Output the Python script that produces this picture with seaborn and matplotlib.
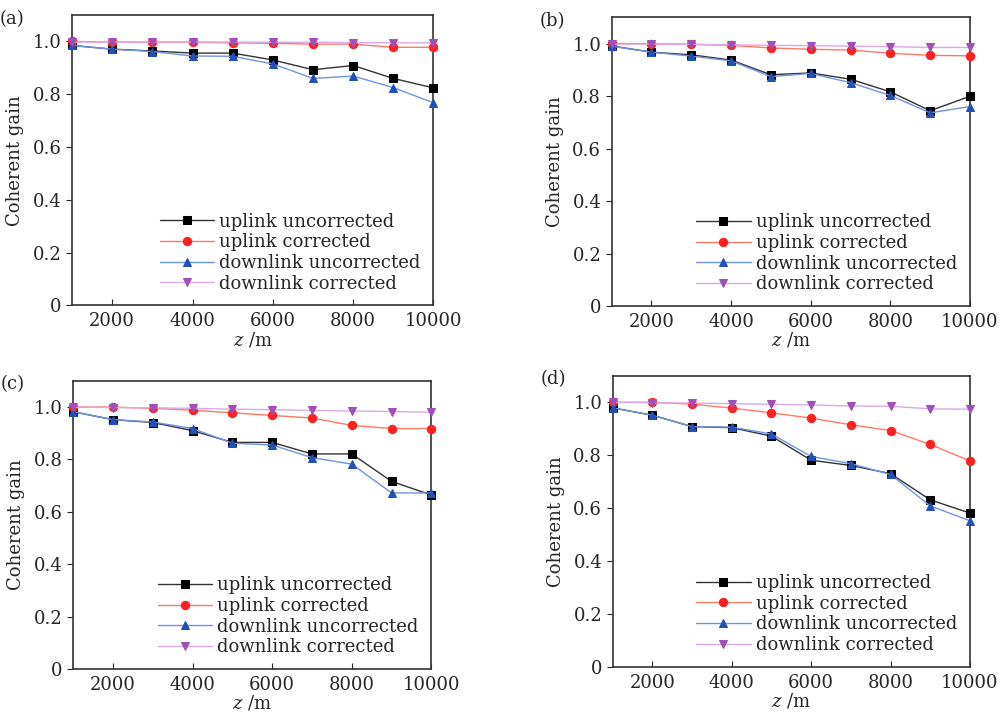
# Coherent gain vs propagation distance, four cases
import numpy as np
import pandas as pd
import matplotlib
matplotlib.use("Agg")
import matplotlib.pyplot as plt
import seaborn as sns

z = [1000, 2000, 3000, 4000, 5000, 6000, 7000, 8000, 9000, 10000]

up_unc_a = [0.985, 0.971, 0.964, 0.956, 0.956, 0.930, 0.893, 0.909, 0.860, 0.824]
up_cor_a = [1.000, 0.998, 0.997, 0.997, 0.995, 0.993, 0.990, 0.990, 0.978, 0.978]
dn_unc_a = [0.985, 0.971, 0.962, 0.945, 0.944, 0.915, 0.860, 0.869, 0.825, 0.768]
dn_cor_a = [0.998, 0.998, 0.998, 0.998, 0.998, 0.997, 0.997, 0.996, 0.995, 0.995]

up_unc_b = [0.991, 0.967, 0.957, 0.937, 0.881, 0.888, 0.864, 0.816, 0.744, 0.799]
up_cor_b = [1.000, 0.999, 0.997, 0.993, 0.983, 0.978, 0.975, 0.963, 0.955, 0.953]
dn_unc_b = [0.990, 0.967, 0.952, 0.934, 0.874, 0.886, 0.851, 0.802, 0.736, 0.760]
dn_cor_b = [0.998, 0.998, 0.997, 0.995, 0.993, 0.992, 0.990, 0.988, 0.985, 0.985]

up_unc_c = [0.982, 0.952, 0.941, 0.910, 0.865, 0.865, 0.821, 0.821, 0.716, 0.664]
up_cor_c = [1.000, 1.000, 0.995, 0.988, 0.978, 0.968, 0.958, 0.930, 0.918, 0.918]
dn_unc_c = [0.982, 0.952, 0.943, 0.918, 0.862, 0.855, 0.807, 0.782, 0.672, 0.672]
dn_cor_c = [1.000, 0.998, 0.997, 0.995, 0.992, 0.990, 0.987, 0.985, 0.983, 0.980]

up_unc_d = [0.979, 0.951, 0.908, 0.904, 0.872, 0.781, 0.761, 0.730, 0.631, 0.581]
up_cor_d = [1.000, 1.000, 0.993, 0.978, 0.960, 0.940, 0.915, 0.893, 0.841, 0.778]
dn_unc_d = [0.979, 0.951, 0.908, 0.906, 0.880, 0.795, 0.768, 0.727, 0.608, 0.552]
dn_cor_d = [1.000, 0.998, 0.997, 0.995, 0.992, 0.990, 0.986, 0.985, 0.975, 0.974]

panels = {
    "(a)": [up_unc_a, up_cor_a, dn_unc_a, dn_cor_a],
    "(b)": [up_unc_b, up_cor_b, dn_unc_b, dn_cor_b],
    "(c)": [up_unc_c, up_cor_c, dn_unc_c, dn_cor_c],
    "(d)": [up_unc_d, up_cor_d, dn_unc_d, dn_cor_d],
}
labels = ["uplink uncorrected", "uplink corrected",
          "downlink uncorrected", "downlink corrected"]

# line colour, marker colour, marker
styles = [
    ("#333333", "#000000", "s"),
    ("#ff7a66", "#ff2020", "o"),
    ("#6f93e6", "#2050b8", "^"),
    ("#dca8e8", "#a050b8", "v"),
]

sns.set_style("ticks")
plt.rcParams["font.family"] = ["DejaVu Serif"]
plt.rcParams["mathtext.fontset"] = "dejavuserif"
plt.rcParams["font.size"] = 13

fig = plt.figure(figsize=(10.01, 7.2), dpi=100)
boxes = {
    "(a)": [0.072, 0.576, 0.361, 0.403],
    "(b)": [0.611, 0.575, 0.358, 0.401],
    "(c)": [0.073, 0.071, 0.358, 0.400],
    "(d)": [0.612, 0.074, 0.357, 0.404],
}

for tag, series in panels.items():
    ax = fig.add_axes(boxes[tag])
    for vals, lab, (lc, mc, mk) in zip(series, labels, styles):
        df = pd.DataFrame({"z": z, "gain": vals})
        sns.lineplot(data=df, x="z", y="gain", ax=ax, color=lc, lw=1.0,
                     marker=mk, markersize=6, markerfacecolor=mc,
                     markeredgecolor=mc, label=lab, clip_on=False, zorder=3)
    ax.set_xlim(1000, 10000)
    ax.set_ylim(0, 1.1)
    ax.set_xticks([2000, 4000, 6000, 8000, 10000])
    ax.set_yticks([0, 0.2, 0.4, 0.6, 0.8, 1.0])
    ax.set_yticklabels(["0", "0.2", "0.4", "0.6", "0.8", "1.0"])
    ax.tick_params(axis="x", direction="in", length=4, pad=5)
    ax.tick_params(axis="y", direction="out", length=4)
    for sp in ax.spines.values():
        sp.set_visible(True)
        sp.set_linewidth(1.2)
        sp.set_color("#333333")
    ax.set_xlabel("$z$ /m", labelpad=0)
    ax.set_ylabel("Coherent gain", labelpad=6)
    ax.legend(loc="lower right", frameon=False, handlelength=3.0,
              handletextpad=0.3, labelspacing=0.15, borderaxespad=0.3,
              fontsize=13, bbox_to_anchor=(1.0, 0.0))
    fig.text(boxes[tag][0] - 0.072, boxes[tag][1] + boxes[tag][3] - 0.005,
             tag, fontsize=13, va="center", ha="left")

fig.savefig("out.png", dpi=100)
